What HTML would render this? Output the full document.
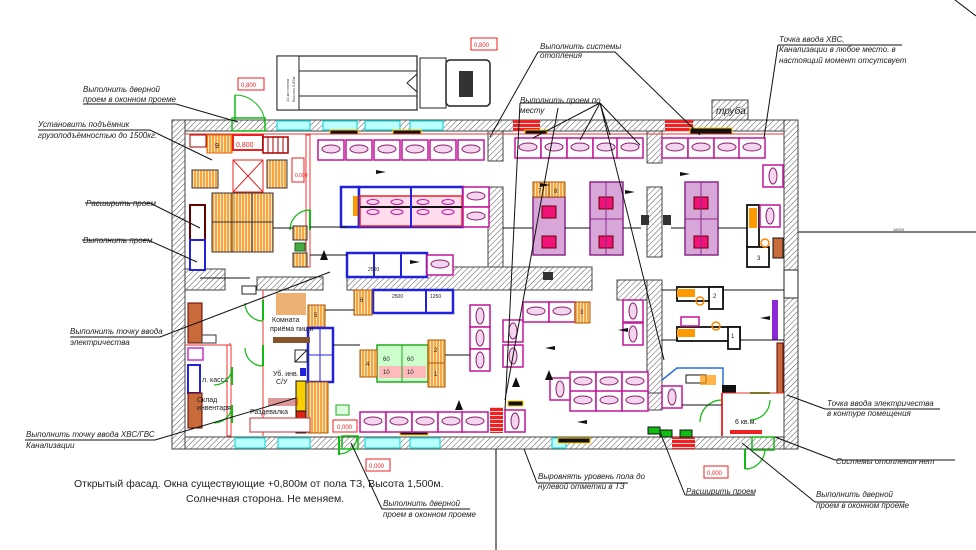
<!DOCTYPE html>
<html><head><meta charset="utf-8">
<style>
html,body{margin:0;padding:0;background:#fff;}
svg{display:block;}
text{font-family:"Liberation Sans","DejaVu Sans",sans-serif;fill:#222;}
.l{font-size:8px;font-style:italic;}
.s{font-size:4px;fill:#444;}
</style></head><body>
<svg width="976" height="550" viewBox="0 0 976 550" xmlns="http://www.w3.org/2000/svg">
<defs>
<pattern id="h" width="4" height="4" patternUnits="userSpaceOnUse" patternTransform="rotate(45)">
<rect width="4" height="4" fill="#fff"/><line x1="0" y1="0" x2="0" y2="4" stroke="#555" stroke-width="1"/></pattern>
<pattern id="br" width="6" height="4" patternUnits="userSpaceOnUse">
<rect width="6" height="4" fill="#e22"/><line x1="0" y1="3.5" x2="6" y2="3.5" stroke="#fff" stroke-width="0.8"/></pattern>
<pattern id="pal" width="3" height="3" patternUnits="userSpaceOnUse">
<rect width="3" height="3" fill="#f7a640"/><line x1="1.5" y1="0" x2="1.5" y2="3" stroke="#fff" stroke-width="0.7"/></pattern>
<g id="cell"><rect width="26" height="20" fill="#fff" stroke="#c3179a" stroke-width="1.5"/><ellipse cx="13" cy="9" rx="9" ry="4" fill="#f3d6ee" stroke="#8a1a6f" stroke-width="1"/></g>
<g id="cv"><rect width="20" height="22" fill="#fff" stroke="#c3179a" stroke-width="1.5"/><ellipse cx="10" cy="11" rx="4" ry="8" fill="#f3d6ee" stroke="#8a1a6f" stroke-width="1"/></g>
</defs>

<!-- outside lines -->
<line x1="496" y1="449" x2="496" y2="550" stroke="#000"/>
<line x1="798" y1="232" x2="976" y2="232" stroke="#000"/>
<text x="893" y="231" class="s">18000</text>
<line x1="955" y1="0" x2="976" y2="16" stroke="#000"/>

<!-- truck -->
<rect x="277" y="56" width="140" height="54" fill="#fff" stroke="#222" stroke-width="1.2"/>
<rect x="277" y="56" width="22" height="54" fill="#fff" stroke="#222"/>
<line x1="299" y1="71" x2="417" y2="71" stroke="#222"/><line x1="299" y1="96" x2="417" y2="96" stroke="#222"/>
<polygon points="417,74 407,83 417,92" fill="none" stroke="#222"/>
<rect x="420" y="58" width="26" height="50" fill="#fff" stroke="#222"/>
<rect x="446" y="60" width="44" height="46" rx="4" fill="#fff" stroke="#222" stroke-width="1.5"/>
<rect x="459" y="71" width="14" height="26" fill="#333"/>
<text class="s" transform="translate(289,102) rotate(-90)">10-ки тонник</text>
<text class="s" transform="translate(295,102) rotate(-90)">Высота 3,85м</text>

<!-- walls -->
<rect x="172" y="120" width="626" height="11" fill="url(#h)" stroke="#444"/>
<rect x="172" y="437" width="626" height="12" fill="url(#h)" stroke="#444"/>
<rect x="172" y="120" width="13" height="329" fill="url(#h)" stroke="#444"/>
<rect x="784" y="120" width="14" height="329" fill="url(#h)" stroke="#444"/>
<rect x="185" y="269" width="40" height="21" fill="url(#h)" stroke="#444"/>
<rect x="257" y="277" width="66" height="13" fill="url(#h)" stroke="#444"/>
<rect x="347" y="267" width="245" height="23" fill="url(#h)" stroke="#444"/>
<rect x="617" y="280" width="30" height="20" fill="url(#h)" stroke="#444"/>
<rect x="488" y="131" width="15" height="30" fill="url(#h)" stroke="#444"/>
<rect x="488" y="187" width="15" height="80" fill="url(#h)" stroke="#444"/>
<rect x="647" y="131" width="15" height="32" fill="url(#h)" stroke="#444"/>
<rect x="647" y="187" width="15" height="70" fill="url(#h)" stroke="#444"/>
<rect x="647" y="280" width="15" height="113" fill="url(#h)" stroke="#444"/>
<rect x="647" y="393" width="15" height="17" fill="url(#h)" stroke="#444"/>
<rect x="712" y="100" width="36" height="20" fill="url(#h)" stroke="#444"/>
<text x="716" y="114" style="font-size:10px;font-style:italic">труба</text>
<rect x="784" y="270" width="14" height="28" fill="#fff" stroke="#222"/>

<!-- windows -->
<g fill="#bff" stroke="#2dd" stroke-width="1.2">
<rect x="277" y="121" width="33" height="9"/><rect x="323" y="121" width="34" height="9"/><rect x="365" y="121" width="35" height="9"/><rect x="410" y="121" width="33" height="9"/>
<rect x="235" y="438" width="30" height="10"/><rect x="278" y="438" width="32" height="10"/><rect x="365" y="438" width="35" height="10"/><rect x="410" y="438" width="30" height="10"/><rect x="552" y="438" width="14" height="10"/>
</g>
<!-- bricks -->
<rect x="513" y="120" width="27" height="12" fill="url(#br)"/>
<rect x="665" y="120" width="28" height="12" fill="url(#br)"/>
<rect x="490" y="407" width="13" height="26" fill="url(#br)"/>
<rect x="672" y="437" width="23" height="12" fill="url(#br)"/>
<!-- radiators black/yellow -->
<g fill="#111" stroke="#fc0"><rect x="330" y="130" width="28" height="4"/><rect x="393" y="130" width="28" height="4"/><rect x="525" y="130" width="22" height="4"/><rect x="690" y="128" width="42" height="6"/><rect x="400" y="430" width="28" height="5"/><rect x="558" y="438" width="32" height="5"/><rect x="508" y="401" width="15" height="5"/></g>
<!-- inner red lines -->
<g stroke="#e33" stroke-width="1" fill="none">
<line x1="185" y1="134" x2="784" y2="134"/><line x1="310" y1="134" x2="310" y2="267"/>
<line x1="263" y1="290" x2="263" y2="436"/><line x1="230" y1="343" x2="230" y2="436"/><line x1="185" y1="345" x2="230" y2="345"/>
</g>
<rect x="227" y="345" width="4" height="91" fill="#fff" stroke="#e33"/>
<rect x="306" y="135" width="4" height="132" fill="#fff" stroke="#e33"/>

<!-- top-left storage -->
<rect x="207" y="135" width="25" height="18" fill="url(#pal)" stroke="#d60"/>
<text x="215" y="148" style="font-size:7px">9</text>
<rect x="190" y="135" width="16" height="12" fill="#fff" stroke="#a00"/>
<rect x="233" y="135" width="30" height="15" fill="#fff" stroke="#e22" stroke-width="2"/>
<text x="236" y="147" style="font-size:7px;fill:#e22">0,800</text>
<rect x="263" y="137" width="25" height="16" fill="#fff" stroke="#a00" stroke-width="1.5"/>
<g stroke="#a00"><line x1="268" y1="137" x2="268" y2="153"/><line x1="273" y1="137" x2="273" y2="153"/><line x1="278" y1="137" x2="278" y2="153"/><line x1="283" y1="137" x2="283" y2="153"/></g>
<rect x="233" y="160" width="30" height="32" fill="#fff" stroke="#e22"/>
<line x1="233" y1="160" x2="263" y2="192" stroke="#e22"/><line x1="263" y1="160" x2="233" y2="192" stroke="#e22"/>
<rect x="267" y="160" width="20" height="28" fill="url(#pal)" stroke="#333"/>
<rect x="192" y="170" width="26" height="18" fill="url(#pal)" stroke="#333"/>
<rect x="292" y="158" width="12" height="24" fill="#fff" stroke="#e22"/>
<text x="295" y="177" style="font-size:5px;fill:#e22">0,000</text>
<g stroke="#333" fill="url(#pal)">
<rect x="212" y="193" width="20" height="29"/><rect x="232" y="193" width="20" height="29"/><rect x="252" y="193" width="21" height="29"/>
<rect x="212" y="222" width="20" height="30"/><rect x="232" y="222" width="20" height="30"/><rect x="252" y="222" width="21" height="30"/>
<rect x="293" y="226" width="14" height="14"/><rect x="293" y="253" width="14" height="14"/>
</g>
<rect x="295" y="243" width="10" height="8" fill="#4a4" stroke="#262"/>
<rect x="190" y="205" width="15" height="35" fill="#fff" stroke="#600" stroke-width="2"/>
<rect x="190" y="240" width="15" height="30" fill="#fff" stroke="#22d" stroke-width="2"/>
<path d="M310 210 a20 20 0 0 0 -20 20" fill="none" stroke="#1b1" stroke-width="1.2"/><line x1="310" y1="210" x2="310" y2="230" stroke="#1b1" stroke-width="2"/>
<!-- door top -->
<path d="M235 95 a30 30 0 0 1 30 30" fill="none" stroke="#1b1"/><line x1="235" y1="95" x2="235" y2="120" stroke="#1b1" stroke-width="1.5"/>
<rect x="232" y="118" width="33" height="13" fill="none" stroke="#1b1" stroke-width="1.5"/>

<!-- fixture rows -->
<use href="#cell" x="318" y="140"/><use href="#cell" x="346" y="140"/><use href="#cell" x="374" y="140"/><use href="#cell" x="402" y="140"/><use href="#cell" x="430" y="140"/><use href="#cell" x="458" y="140"/>
<use href="#cell" x="515" y="138"/><use href="#cell" x="541" y="138"/><use href="#cell" x="567" y="138"/><use href="#cell" x="593" y="138"/><use href="#cell" x="617" y="138"/>
<use href="#cell" x="662" y="138"/><use href="#cell" x="688" y="138"/><use href="#cell" x="714" y="138"/><use href="#cell" x="739" y="138"/>
<use href="#cv" x="763" y="165"/>
<!-- blue block -->
<rect x="341" y="187" width="18" height="40" fill="#fff" stroke="#22d" stroke-width="2.5"/>
<rect x="353" y="196" width="6" height="20" fill="#f90"/>
<rect x="359" y="187" width="104" height="40" fill="#fff" stroke="#22d" stroke-width="2.5"/>
<rect x="360" y="196" width="102" height="30" fill="#fde" stroke="#e22" stroke-width="1.5"/>
<line x1="360" y1="207" x2="462" y2="207" stroke="#111" stroke-width="2"/>
<g fill="#f3d6ee" stroke="#c3179a"><ellipse cx="373" cy="202" rx="6" ry="2.5"/><ellipse cx="397" cy="202" rx="6" ry="2.5"/><ellipse cx="423" cy="202" rx="6" ry="2.5"/><ellipse cx="448" cy="202" rx="6" ry="2.5"/><ellipse cx="373" cy="212" rx="6" ry="2.5"/><ellipse cx="397" cy="212" rx="6" ry="2.5"/><ellipse cx="423" cy="212" rx="6" ry="2.5"/><ellipse cx="448" cy="212" rx="6" ry="2.5"/></g>
<line x1="411" y1="187" x2="411" y2="227" stroke="#22d" stroke-width="2"/>
<use href="#cell" x="463" y="187"/><use href="#cell" x="463" y="207"/>
<rect x="347" y="253" width="80" height="24" fill="#fff" stroke="#22d" stroke-width="2.5"/>
<line x1="374" y1="253" x2="374" y2="277" stroke="#22d" stroke-width="2"/><line x1="401" y1="253" x2="401" y2="277" stroke="#22d" stroke-width="2"/>
<text x="368" y="271" style="font-size:5px">2500</text>
<use href="#cell" x="427" y="255"/>
<rect x="373" y="290" width="80" height="23" fill="#fff" stroke="#22d" stroke-width="2.5"/>
<line x1="426" y1="290" x2="426" y2="313" stroke="#22d" stroke-width="2"/>
<text x="392" y="298" style="font-size:5px">2500</text><text x="430" y="298" style="font-size:5px">1250</text>
<rect x="354" y="290" width="18" height="25" fill="url(#pal)" stroke="#a50"/><text x="360" y="302" style="font-size:6px">6</text>
<rect x="308" y="305" width="17" height="22" fill="url(#pal)" stroke="#a50"/><text x="314" y="317" style="font-size:6px">5</text>
<rect x="308" y="328" width="25" height="54" fill="#fff" stroke="#22d" stroke-width="2.5"/>
<line x1="320" y1="328" x2="320" y2="382" stroke="#22d"/><line x1="308" y1="355" x2="333" y2="355" stroke="#22d"/>
<rect x="308" y="382" width="20" height="51" fill="url(#pal)" stroke="#a50"/>
<rect x="296" y="381" width="10" height="30" fill="#f8d000" stroke="#111"/><rect x="296" y="411" width="10" height="22" fill="#d21" stroke="#111"/>
<rect x="377" y="345" width="51" height="37" fill="#cfc" stroke="#2a2" stroke-width="1.5"/>
<rect x="379" y="366" width="47" height="12" fill="#fbb"/>
<line x1="402" y1="345" x2="402" y2="382" stroke="#2a2"/>
<text x="383" y="361" style="font-size:6px">60</text><text x="407" y="361" style="font-size:6px">60</text><text x="383" y="374" style="font-size:6px">10</text><text x="407" y="374" style="font-size:6px">10</text>
<rect x="360" y="350" width="17" height="27" fill="url(#pal)" stroke="#a50"/><text x="366" y="366" style="font-size:6px">4</text>
<rect x="428" y="340" width="17" height="23" fill="url(#pal)" stroke="#a50"/><text x="434" y="352" style="font-size:6px">2</text>
<rect x="428" y="363" width="17" height="24" fill="url(#pal)" stroke="#a50"/><text x="434" y="376" style="font-size:6px">1</text>
<use href="#cell" x="360" y="412"/><use href="#cell" x="386" y="412"/><use href="#cell" x="412" y="412"/><use href="#cell" x="438" y="412"/><use href="#cell" x="462" y="412"/>
<use href="#cv" x="470" y="305"/><use href="#cv" x="470" y="327"/><use href="#cv" x="470" y="349"/>
<rect x="336" y="405" width="13" height="10" fill="#dfd" stroke="#2a2"/>
<rect x="333" y="420" width="24" height="12" fill="#fff" stroke="#e22"/><text x="337" y="429" style="font-size:6px;fill:#e22">0,000</text>
<!-- left rooms -->
<rect x="188" y="303" width="14" height="40" fill="#c96a3a" stroke="#600"/>
<rect x="188" y="348" width="15" height="12" fill="#fff" stroke="#c3c" stroke-width="1.5"/>
<rect x="188" y="365" width="12" height="28" fill="#fff" stroke="#22d" stroke-width="2"/>
<rect x="188" y="393" width="14" height="35" fill="#c96a3a" stroke="#600"/>
<rect x="202" y="335" width="14" height="8" fill="#fff" stroke="#333"/>
<text x="202" y="382" style="font-size:7px">л. касса</text>
<text x="197" y="402" style="font-size:7px">Склад</text><text x="197" y="410" style="font-size:7px">инвентаря</text>
<rect x="242" y="286" width="14" height="8" fill="#fff" stroke="#222"/>
<text x="272" y="322" style="font-size:7px">Комната</text><text x="270" y="331" style="font-size:7px">приёма пищи</text>
<text x="273" y="376" style="font-size:7px">Уб. инв.</text><text x="276" y="384" style="font-size:7px">С/У</text>
<text x="250" y="414" style="font-size:7px">Раздевалка</text>
<rect x="276" y="293" width="30" height="22" fill="#e99d50" opacity=".8"/>
<rect x="273" y="337" width="37" height="6" fill="#86542a"/>
<rect x="295" y="350" width="12" height="12" fill="#fff" stroke="#222"/><line x1="295" y1="362" x2="307" y2="350" stroke="#222"/>
<rect x="300" y="368" width="6" height="8" fill="#22d"/>
<rect x="250" y="418" width="60" height="14" fill="#fff" stroke="#b33"/>
<rect x="268" y="398" width="30" height="8" fill="#b33" opacity=".5"/>
<g fill="none" stroke="#1b1" stroke-width="1.2">
<path d="M245 303 a18 18 0 0 0 18 18"/><path d="M245 348 a18 18 0 0 0 18 18"/><path d="M232 367 a18 18 0 0 1 -18 18"/><path d="M232 405 a18 18 0 0 1 -18 18"/>
<path d="M357 436 a18 18 0 0 1 -18 18"/><path d="M722 400 a22 22 0 0 0 -22 22"/><path d="M770 400 a20 20 0 0 1 -20 20"/><path d="M765 449 a20 20 0 0 1 -20 20"/>
</g>
<g stroke="#1b1" stroke-width="2"><line x1="263" y1="300" x2="263" y2="320"/><line x1="263" y1="345" x2="263" y2="366"/><line x1="232" y1="367" x2="232" y2="385"/><line x1="232" y1="405" x2="232" y2="423"/><line x1="339" y1="436" x2="339" y2="455"/><line x1="722" y1="400" x2="722" y2="422"/><line x1="750" y1="393" x2="770" y2="393"/><line x1="745" y1="449" x2="745" y2="469"/></g>
<rect x="342" y="436" width="16" height="13" fill="none" stroke="#1b1" stroke-width="1.5"/>
<rect x="752" y="437" width="22" height="13" fill="none" stroke="#1b1" stroke-width="1.5"/>

<!-- right part islands -->
<g stroke="#8a2a8a" stroke-width="1.5" fill="#d9a6d9">
<rect x="533" y="197" width="32" height="58"/><rect x="590" y="182" width="33" height="73"/><rect x="685" y="182" width="33" height="73"/>
</g>
<rect x="533" y="182" width="16" height="15" fill="url(#pal)" stroke="#a50"/><rect x="549" y="182" width="16" height="15" fill="url(#pal)" stroke="#a50"/>
<text x="538" y="193" style="font-size:6px">7</text><text x="554" y="193" style="font-size:6px">8</text>
<g fill="#f1137a" stroke="#600"><rect x="542" y="206" width="14" height="12"/><rect x="542" y="236" width="14" height="12"/><rect x="599" y="197" width="14" height="12"/><rect x="599" y="236" width="14" height="12"/><rect x="694" y="197" width="14" height="12"/><rect x="694" y="236" width="14" height="12"/></g>
<line x1="606" y1="182" x2="606" y2="255" stroke="#8a2a8a"/><line x1="701" y1="182" x2="701" y2="255" stroke="#8a2a8a"/>
<line x1="590" y1="219" x2="623" y2="219" stroke="#8a2a8a"/><line x1="685" y1="219" x2="718" y2="219" stroke="#8a2a8a"/>
<rect x="543" y="272" width="10" height="8" fill="#333"/><rect x="641" y="215" width="8" height="10" fill="#333"/><rect x="663" y="215" width="8" height="10" fill="#333"/>
<use href="#cell" x="523" y="302"/><use href="#cell" x="549" y="302"/>
<rect x="575" y="302" width="15" height="21" fill="url(#pal)" stroke="#a50"/><text x="580" y="314" style="font-size:6px">3</text>
<use href="#cv" x="503" y="320"/><use href="#cv" x="503" y="345"/>
<use href="#cv" x="623" y="300"/><use href="#cv" x="623" y="323"/>
<use href="#cell" x="570" y="372"/><use href="#cell" x="596" y="372"/><use href="#cell" x="622" y="372"/>
<use href="#cell" x="570" y="391"/><use href="#cell" x="596" y="391"/><use href="#cell" x="622" y="391"/>
<use href="#cv" x="550" y="378"/><use href="#cv" x="662" y="386"/>
<use href="#cv" x="505" y="410"/>
<!-- kitchen equipment -->
<g fill="#fff" stroke="#111" stroke-width="1.8">
<rect x="677" y="287" width="46" height="14"/><rect x="709" y="287" width="14" height="22"/>
<rect x="677" y="327" width="63" height="14"/><rect x="728" y="327" width="12" height="22"/>
<rect x="747" y="205" width="12" height="42"/><rect x="747" y="247" width="22" height="20"/>
</g>
<text x="713" y="298" style="font-size:6px">2</text><text x="731" y="338" style="font-size:6px">1</text><text x="757" y="260" style="font-size:6px">3</text>
<rect x="677" y="289" width="18" height="8" fill="#f90"/><rect x="677" y="329" width="18" height="8" fill="#f90"/><rect x="749" y="208" width="8" height="20" fill="#f90"/>
<use href="#cv" x="760" y="205"/>
<circle cx="765" cy="243" r="4" fill="none" stroke="#f80" stroke-width="1.5"/><circle cx="700" cy="301" r="4" fill="none" stroke="#f80" stroke-width="1.5"/><circle cx="716" cy="326" r="4" fill="none" stroke="#f80" stroke-width="1.5"/>
<rect x="681" y="317" width="18" height="9" fill="#fff" stroke="#c3179a" stroke-width="1.5"/>
<polyline points="662,380 677,368 723,368 723,393" fill="none" stroke="#2a6fd6" stroke-width="1.5"/>
<rect x="686" y="375" width="20" height="8" fill="#fff" stroke="#111"/><rect x="700" y="375" width="16" height="10" fill="#f90" opacity=".7"/>
<rect x="722" y="385" width="14" height="8" fill="#111"/>
<rect x="777" y="343" width="6" height="50" fill="#c96a3a" stroke="#600"/>
<rect x="772" y="300" width="6" height="40" fill="#8a2ad6"/>
<rect x="773" y="238" width="10" height="20" fill="#c96a3a" stroke="#111"/>
<line x1="722" y1="393" x2="784" y2="393" stroke="#e33"/><line x1="722" y1="393" x2="722" y2="436" stroke="#e33" stroke-width="2"/>
<rect x="730" y="430" width="32" height="4" fill="#e22"/>
<text x="735" y="424" style="font-size:7px">6 кв.м.</text>
<g fill="#1b1" stroke="#111"><rect x="648" y="427" width="12" height="7"/><rect x="660" y="430" width="12" height="7"/><rect x="680" y="430" width="12" height="7"/></g>
<rect x="704" y="466" width="24" height="12" fill="#fff" stroke="#e22"/><text x="707" y="475" style="font-size:6px;fill:#e22">0,000</text>
<rect x="366" y="459" width="24" height="12" fill="#fff" stroke="#e22"/><text x="369" y="468" style="font-size:6px;fill:#e22">0,000</text>
<rect x="238" y="78" width="26" height="12" fill="#fff" stroke="#e22"/><text x="241" y="87" style="font-size:6px;fill:#e22">0,800</text>
<rect x="471" y="38" width="26" height="12" fill="#fff" stroke="#e22"/><text x="474" y="47" style="font-size:6px;fill:#e22">0,800</text>

<!-- dimension/flow lines -->
<g stroke="#111" stroke-width="1">
<line x1="310" y1="227" x2="347" y2="227"/><line x1="310" y1="255" x2="347" y2="255"/><line x1="273" y1="228" x2="293" y2="228"/>
<line x1="503" y1="228" x2="533" y2="228"/><line x1="565" y1="228" x2="590" y2="228"/><line x1="623" y1="228" x2="641" y2="228"/><line x1="671" y1="228" x2="685" y2="228"/><line x1="718" y1="228" x2="747" y2="228"/>
<line x1="662" y1="290" x2="677" y2="290"/><line x1="723" y1="290" x2="784" y2="290"/><line x1="662" y1="340" x2="677" y2="340"/><line x1="740" y1="340" x2="784" y2="340"/>
<line x1="333" y1="345" x2="360" y2="345"/><line x1="445" y1="355" x2="470" y2="355"/><line x1="325" y1="310" x2="354" y2="310"/><line x1="682" y1="405" x2="722" y2="405"/>
<line x1="200" y1="278" x2="250" y2="278"/>
</g>
<g fill="#111"><polygon points="376,170 386,172 376,174"/><polygon points="410,260 420,262 410,264"/><polygon points="540,183 550,185 540,187"/><polygon points="625,190 635,192 625,194"/><polygon points="680,172 690,174 680,176"/><polygon points="555,346 545,348 555,350"/><polygon points="628,328 618,330 628,332"/><polygon points="545,380 549,370 553,380"/><polygon points="587,420 577,422 587,424"/><polygon points="320,260 324,250 328,260"/><polygon points="463,410 459,400 455,410"/><polygon points="520,387 516,377 512,387"/><polygon points="770,316 760,318 770,320"/></g>

<!-- leader lines -->
<g stroke="#111" stroke-width="1" fill="none">
<polyline points="83,104 176,104 238,122"/>
<polyline points="38,130 150,130 212,160"/>
<polyline points="85,203 150,203 200,228"/>
<polyline points="82,240 148,240 197,262"/>
<polyline points="70,337 160,337 330,272"/>
<polyline points="25,440 155,440 296,398"/>
<polyline points="538,52 490,137"/><polyline points="538,52 615,52 700,135"/>
<polyline points="520,103 600,103 533,138"/><polyline points="600,103 610,135"/><polyline points="600,103 640,145"/><polyline points="600,103 664,360"/><polyline points="600,103 580,140"/>
<polyline points="558,108 505,400"/>
<polyline points="520,103 505,410"/>
<polyline points="778,45 902,45"/><polyline points="778,45 764,138"/>
<polyline points="825,409 940,409"/><polyline points="825,409 787,395"/>
<polyline points="835,460 955,460"/><polyline points="835,460 775,437"/>
<polyline points="815,502 905,502"/><polyline points="815,502 742,443"/>
<polyline points="685,495 755,495"/><polyline points="685,495 660,432"/>
<polyline points="537,483 628,483"/><polyline points="537,483 524,449"/>
<polyline points="382,509 470,509"/><polyline points="382,509 351,443"/>
</g>

<!-- labels -->
<text x="83" y="92" class="l">Выполнить   дверной</text>
<text x="83" y="102" class="l">проем в оконном проеме</text>
<text x="38" y="127" class="l">Установить подъёмник</text>
<text x="38" y="138" class="l">грузоподъёмностью до 1500кг.</text>
<text x="86" y="206" class="l">Расширить проем</text>
<text x="83" y="243" class="l">Выполнить проем</text>
<text x="70" y="334" class="l">Выполнить точку ввода</text>
<text x="70" y="345" class="l">электричества</text>
<text x="26" y="437" class="l">Выполнить точку ввода ХВС/ГВС</text>
<text x="26" y="448" class="l">Канализации</text>
<text x="540" y="49" class="l">Выполнить системы</text>
<text x="540" y="58" class="l">отопления</text>
<text x="520" y="103" class="l">Выполнить проем по</text>
<text x="520" y="113" class="l">месту</text>
<text x="779" y="42" class="l">Точка ввода ХВС,</text>
<text x="779" y="52" class="l">Канализации в любое место. в</text>
<text x="779" y="63" class="l">настоящий момент отсутсвует</text>
<text x="827" y="406" class="l">Точка ввода электричества</text>
<text x="827" y="416" class="l">в контуре помещения</text>
<text x="836" y="464" class="l">Системы отопления нет</text>
<text x="816" y="497" class="l">Выполнить   дверной</text>
<text x="816" y="508" class="l">проем в оконном проеме</text>
<text x="686" y="494" class="l">Расширить проем</text>
<text x="538" y="479" class="l">Выровнять уровень пола до</text>
<text x="538" y="489" class="l">нулевой отметки в ТЗ</text>
<text x="383" y="506" class="l">Выполнить   дверной</text>
<text x="383" y="517" class="l">проем в оконном проеме</text>
<text x="74" y="487" style="font-size:10.5px">Открытый фасад. Окна существующие +0,800м от пола ТЗ, Высота 1,500м.</text>
<text x="186" y="502" style="font-size:10.5px">Солнечная сторона. Не меняем.</text>
</svg>
</body></html>
